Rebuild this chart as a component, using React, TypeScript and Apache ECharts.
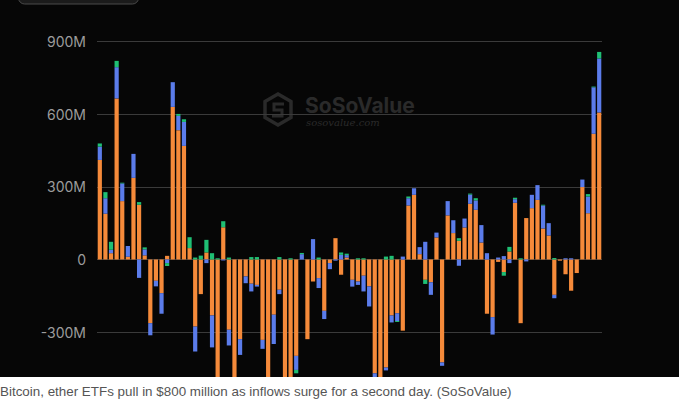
import React, { useEffect, useRef } from "react";
import * as echarts from "echarts";

// Daily net flows (millions USD) per product, stacked
const days: string[] = Array.from({ length: 90 }, (_, i) => `D${i + 1}`);

const orangeFlows: number[] = [
  411, 189, 26, 665, 241, 11, 337, 226, 17, -263,
  -88, -139, 15, 630, 534, 469, 47, -277, -143, 29,
  -231, -520, 133, -290, -520, -329, -70, -100, -105, -332,
  -520, -228, -125, -520, -520, -398, 0, -329, -91, -77,
  -212, -15, 88, -63, 8, -84, -91, -67, -111, -470,
  -520, -446, -231, -222, -294, 223, 267, 22, -84, -94,
  91, -425, 182, 109, 77, 132, 230, 205, 70, -224,
  -238, -10, -52, 33, 234, -263, 171, 212, 246, 128,
  99, -146, -5, -61, -129, -56, 299, 191, 519, 607,
];

const blueFlows: number[] = [
  55, 64, 14, 129, 73, 45, 99, -76, 25, -50,
  -23, -85, -15, 102, 59, 99, 0, -103, 0, -15,
  -132, 0, -4, -65, 0, -65, -28, -32, -7, -37,
  0, -121, -18, 0, 0, -58, 22, 0, 84, -41,
  -34, -25, -5, 19, 10, -28, -14, -65, -83, -30,
  0, -12, -29, -32, 12, 30, 27, 29, 73, -52,
  20, -14, 59, 53, -26, 37, 38, 39, 72, 26,
  -72, 8, 14, -15, 15, 0, -8, 55, 61, 95,
  51, -14, 0, 5, 5, 0, 31, 69, 192, 223,
];

const greenFlows: number[] = [
  13, 25, 33, 26, 3, 0, 0, 11, 8, 0,
  0, 0, -12, 0, 8, 11, 45, 8, 16, 52,
  26, 5, 25, 8, 0, 0, 0, 10, 10, 0,
  0, 0, 10, 0, 5, -14, 5, 0, 0, 8,
  0, 0, 0, 10, 6, 0, 5, 5, 0, 0,
  0, 12, 15, -4, 0, 7, 0, 0, -17, 0,
  0, 0, 0, 0, 11, 0, 4, 9, 0, 0,
  0, 0, -15, 19, 6, 5, 0, 0, 0, 3,
  0, 6, 0, 0, 0, 0, 0, 10, 3, 27,
];

const yTicks = { min: -600, max: 900, interval: 300 };

const caption =
  "Bitcoin, ether ETFs pull in $800 million as inflows surge for a second day. (SoSoValue)";

export default function App() {
  const ref = useRef<HTMLDivElement>(null);

  useEffect(() => {
    if (!ref.current) return;
    const chart = echarts.init(ref.current, null, { renderer: "svg" });
    const wm = "#2a2a2a";
    const barStyle = (color: string) => ({
      type: "bar" as const,
      stack: "flows",
      barWidth: 4.2,
      itemStyle: { color },
      emphasis: { disabled: true },
    });
    chart.setOption({
      animation: false,
      backgroundColor: "transparent",
      grid: { left: 97, right: 77, top: 41.5, bottom: 25.2 },
      xAxis: {
        type: "category",
        data: days,
        axisLine: { show: false },
        axisTick: { show: false },
        axisLabel: { show: false },
        splitLine: { show: false },
      },
      yAxis: {
        type: "value",
        min: yTicks.min,
        max: yTicks.max,
        interval: yTicks.interval,
        axisLine: { show: false },
        axisTick: { show: false },
        axisLabel: {
          color: "#9c9c9c",
          fontSize: 14,
          fontFamily: "Inter, 'Liberation Sans', sans-serif",
          margin: 11,
          showMinLabel: false,
          formatter: (v: number) => (v === 0 ? "0" : `${v}M`),
        },
        splitLine: { lineStyle: { color: "#3a3a3a", width: 1 } },
      },
      graphic: [
        {
          type: "rect",
          shape: { x: 18.5, y: -20, width: 120, height: 24, r: 6 },
          style: { fill: "#1b1b1b", stroke: "#4a4a4a", lineWidth: 1 },
          silent: true,
        },
        {
          type: "polygon",
          shape: {
            points: [
              [278, 94],
              [291, 101.5],
              [291, 117.5],
              [278, 125],
              [265, 117.5],
              [265, 101.5],
            ],
          },
          style: { fill: "none", stroke: wm, lineWidth: 3.5 },
          silent: true,
        },
        {
          type: "polyline",
          shape: {
            points: [
              [284, 104],
              [274, 104],
              [274, 110],
              [282, 110],
              [282, 116],
              [272, 116],
            ],
          },
          style: { fill: "none", stroke: wm, lineWidth: 3 },
          silent: true,
        },
        {
          type: "text",
          x: 305,
          y: 105,
          style: {
            text: "SoSoValue",
            fill: wm,
            font: "bold 21px Inter, 'Liberation Sans', sans-serif",
            verticalAlign: "middle",
          },
          silent: true,
        },
        {
          type: "text",
          x: 306,
          y: 122,
          style: {
            text: "sosovalue.com",
            fill: wm,
            font: "italic 10px 'DejaVu Serif', serif",
            verticalAlign: "middle",
          },
          silent: true,
        },
      ],
      series: [
        { ...barStyle("#f58a3a"), name: "BTC", data: orangeFlows },
        { ...barStyle("#5b7cea"), name: "ETH", data: blueFlows },
        { ...barStyle("#1fbf74"), name: "Other", data: greenFlows },
      ],
    });
    return () => chart.dispose();
  }, []);

  return (
    <div
      style={{
        position: "absolute",
        left: 0,
        top: 0,
        width: 681,
        height: 401,
        background: "#ffffff",
        overflow: "hidden",
      }}
    >
      <div
        style={{
          position: "absolute",
          left: 0,
          top: 0,
          width: 679,
          height: 377,
          background: "#060606",
          overflow: "hidden",
        }}
      >
        <div ref={ref} style={{ width: 679, height: 430 }} />
      </div>
      <div
        style={{
          position: "absolute",
          left: 0,
          top: 383,
          fontFamily: "'Liberation Sans', Arial, sans-serif",
          fontSize: 13.4,
          lineHeight: "17px",
          color: "#555555",
          whiteSpace: "nowrap",
        }}
      >
        {caption}
      </div>
    </div>
  );
}
